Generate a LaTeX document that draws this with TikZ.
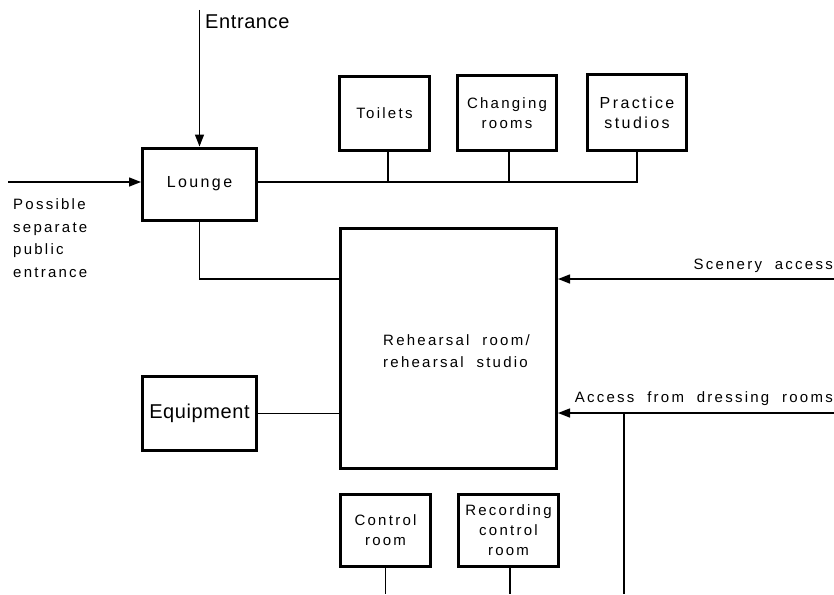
\documentclass[tikz,border=0pt]{standalone}
\usepackage{fontspec}
\setmainfont{Liberation Sans}[LetterSpace=15,WordSpace=2]
\newfontfamily\plainfont{Liberation Sans}[LetterSpace=3]
\usetikzlibrary{arrows.meta}
\begin{document}
\begin{tikzpicture}[x=1pt,y=-1pt,
  box/.style={draw,line width=3pt,inner sep=0pt,align=center,font=\fontsize{15}{20}\selectfont},
  link/.style={line width=1.4pt},
  arr/.style={line width=1.4pt,-{Triangle[length=12pt,width=9pt]}},
  lbl/.style={inner sep=0pt,font=\fontsize{15}{22.5}\selectfont}]
\useasboundingbox (0,0) rectangle (834,594);
% nodes
\node[box,minimum width=114pt,minimum height=72pt,font=\fontsize{16}{20}\selectfont] (lounge) at (199.5,184) {Lounge};
\node[box,minimum width=90pt,minimum height=74pt] (toilets) at (384.5,113.5) {Toilets};
\node[box,minimum width=99pt,minimum height=75pt] (changing) at (507,113) {Changing\\rooms};
\node[box,minimum width=99pt,minimum height=76pt,font=\fontsize{16}{20}\selectfont] (practice) at (637,112.5) {Practice\\studios};
\node[box,minimum width=216pt,minimum height=240pt] (reh) at (448.5,348.5) {};
\node[lbl,align=left,anchor=west] (rehtext) at (383,351) {Rehearsal room/\\rehearsal studio};
\node[box,minimum width=114pt,minimum height=74pt,font=\plainfont\fontsize{20}{22}\selectfont] (equip) at (199.5,413.5) {Equipment};
\node[box,minimum width=90pt,minimum height=72pt] (control) at (385.5,530.5) {Control\\room};
\node[box,minimum width=100pt,minimum height=72pt] (recording) at (508.5,530.5) {Recording\\control\\room};
% labels
\node[inner sep=0pt,anchor=west,font=\plainfont\fontsize{20}{22}\selectfont] (entrlbl) at (205,22) {Entrance};
\node[lbl,align=left,anchor=west] (pselbl) at (13,238) {Possible\\separate\\public\\entrance};
\node[lbl,anchor=east] (scenlbl) at (833,266) {Scenery access};
\node[lbl,anchor=east] (dresslbl) at (833,399) {Access from dressing rooms};
% free ends
\coordinate (entr) at (199.5,10);
\coordinate (pse) at (8,182);
\coordinate (scen) at (834,279);
\coordinate (dress) at (834,413);
\coordinate (dbot) at (624,594);
\coordinate (cbot) at (385.5,594);
\coordinate (rbot) at (510,594);
% connectors
\draw[arr] (entr) -- (lounge.north);
\draw[arr] (pse) -- (pse -| lounge.west);
\draw[link] (lounge.east |- pse) -| (practice.south);
\draw[link] ([xshift=3.5pt]toilets.south) -- ([xshift=3.5pt]toilets.south |- pse);
\draw[link] ([xshift=2pt]changing.south) -- ([xshift=2pt]changing.south |- pse);
\draw[link] (lounge.south) |- (reh.west |- scen);
\draw[arr] (scen) -- (scen -| reh.east);
\draw[arr] (dress) -- (dress -| reh.east);
\draw[link] (dbot |- dress) -- (dbot);
\draw[link] (equip.east) -- (equip.east -| reh.west);
\draw[link] (control.south) -- (cbot);
\draw[link] (rbot |- recording.south) -- (rbot);
\end{tikzpicture}
\end{document}
